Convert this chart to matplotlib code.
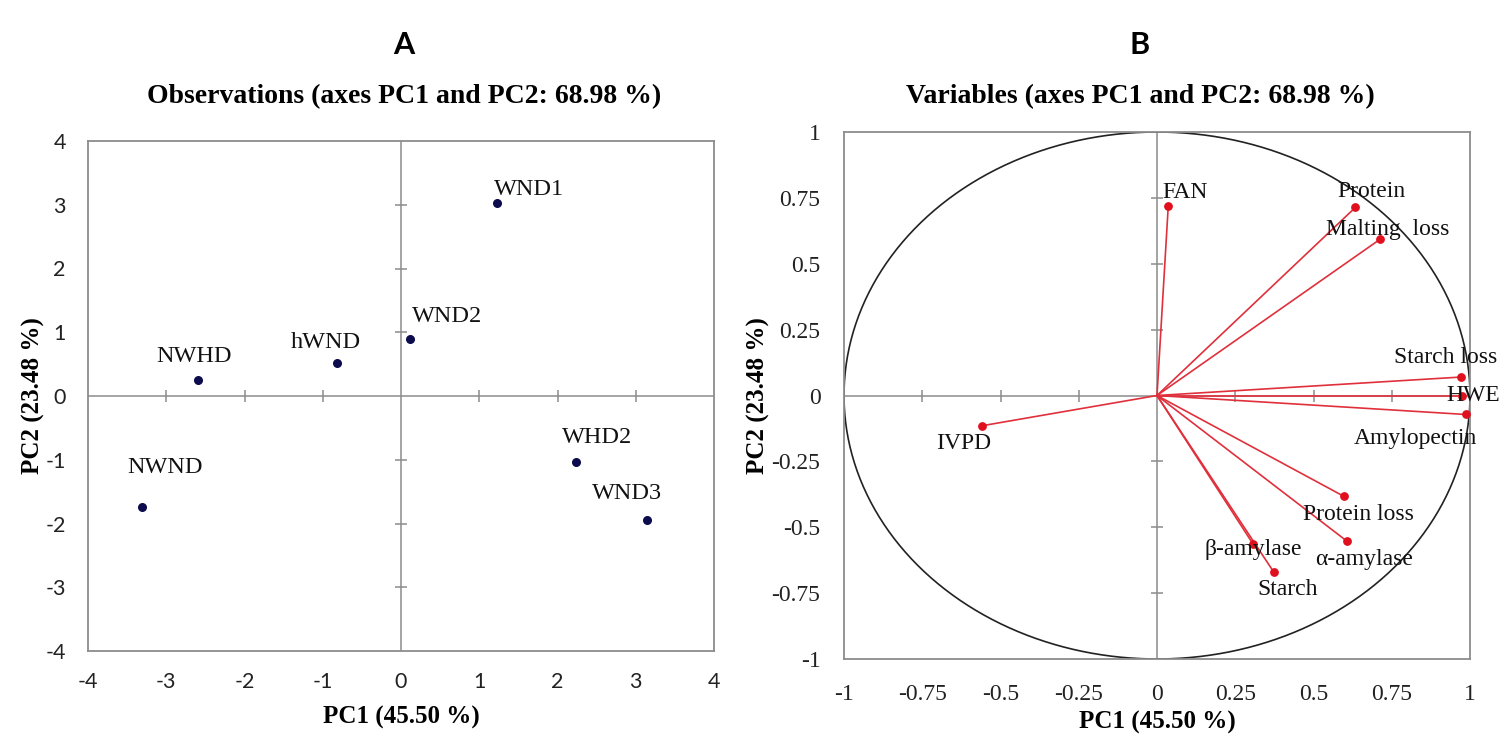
import numpy as np
import matplotlib
matplotlib.use("Agg")
import matplotlib.pyplot as plt

# observations (panel A)
obs_names = ["WND1", "WND2", "hWND", "NWHD", "NWND", "WHD2", "WND3"]
obs_pc1 = [1.23, 0.12, -0.82, -2.60, -3.31, 2.24, 3.15]
obs_pc2 = [3.03, 0.90, 0.51, 0.25, -1.74, -1.03, -1.95]

# variables (panel B)
var_names = ["FAN", "Protein", "Malting  loss", "Starch loss", "HWE", "Amylopectin",
             "IVPD", "Protein loss", "\u03b1-amylase", "\u03b2-amylase", "Starch"]
var_pc1 = [0.036, 0.634, 0.714, 0.971, 0.975, 0.986, -0.560, 0.596, 0.607, 0.306, 0.373]
var_pc2 = [0.720, 0.714, 0.594, 0.070, 0.000, -0.072, -0.115, -0.382, -0.553, -0.562, -0.670]

obs_ticks = [-4, -3, -2, -1, 0, 1, 2, 3, 4]
var_ticks = [-1, -0.75, -0.5, -0.25, 0, 0.25, 0.5, 0.75, 1]
var_ticklabels = ["-1", "-0.75", "-0.5", "-0.25", "0", "0.25", "0.5", "0.75", "1"]

# label offsets in pixels (dx, dy)
obs_off = [(32, 13), (37, 22), (-11, 21), (-4, 24), (23, 39), (21, 24), (-20, 27)]
var_off = [(17, 13), (16, 16), (7, 9), (-15, 20), (11, 0), (-50, -24),
           (-18, -18), (15, -18), (17, -18), (0, -6), (14, -17)]

serif = "Liberation Serif"
sans = "Lato"
spine_col = "#8c8c8c"

fig = plt.figure(figsize=(15.05, 7.39), dpi=100)
W, H = 1505, 739


def add_axes(x0, x1, y0, y1):
    return fig.add_axes([x0 / W, 1 - y1 / H, (x1 - x0) / W, (y1 - y0) / H])


def style(ax, ticks, labels, font, fs, xpad, ypad, ylab_x, xlab_y):
    ax.set_xlim(ticks[0], ticks[-1])
    ax.set_ylim(ticks[0], ticks[-1])
    ax.set_xticks(ticks)
    ax.set_yticks(ticks)
    ax.set_xticklabels(labels, fontfamily=font, fontsize=fs)
    ax.set_yticklabels(labels, fontfamily=font, fontsize=fs)
    ax.tick_params(axis="x", length=0, pad=xpad, colors="#222222")
    ax.tick_params(axis="y", length=0, pad=ypad, colors="#222222")
    for s in ax.spines.values():
        s.set_color(spine_col)
        s.set_linewidth(1.3)
    ax.axhline(0, color=spine_col, lw=1.1, zorder=1)
    ax.axvline(0, color=spine_col, lw=1.1, zorder=1)
    inner = [t for t in ticks if t not in (ticks[0], ticks[-1], 0)]
    ax.plot(inner, [0] * len(inner), ls="none", marker="|", ms=9, mew=1.1, color=spine_col, zorder=1)
    ax.plot([0] * len(inner), inner, ls="none", marker="_", ms=9, mew=1.1, color=spine_col, zorder=1)
    ax.set_xlabel("PC1 (45.50 %)", fontfamily=serif, fontweight="bold", fontsize=18)
    ax.set_ylabel("PC2 (23.48 %)", fontfamily=serif, fontweight="bold", fontsize=18)
    ax.xaxis.set_label_coords(0.5, xlab_y)
    ax.yaxis.set_label_coords(ylab_x, 0.5)


# panel A
axA = add_axes(88, 714, 141, 651)
style(axA, obs_ticks, [str(t) for t in obs_ticks], sans, 15.5, 15, 16, -0.068, -0.108)
axA.scatter(obs_pc1, obs_pc2, s=30, color="#0b0b4d", zorder=3)
for n, x, y, (dx, dy) in zip(obs_names, obs_pc1, obs_pc2, obs_off):
    axA.annotate(n, (x, y), xytext=(dx, dy), textcoords="offset pixels",
                 ha="center", va="center", fontfamily=serif, fontsize=17.5, color="#111111")

# panel B
axB = add_axes(844, 1470, 132, 659)
style(axB, var_ticks, var_ticklabels, serif, 17, 18, 17, -0.118, -0.098)
t = np.linspace(0, 2 * np.pi, 400)
axB.plot(np.cos(t), np.sin(t), color="#222222", lw=1.2, zorder=2)
for x, y in zip(var_pc1, var_pc2):
    axB.plot([0, x], [0, y], color="#e0303c", lw=1.2, zorder=3)
axB.scatter(var_pc1, var_pc2, s=28, color="#e0101e", zorder=4)
for n, x, y, (dx, dy) in zip(var_names, var_pc1, var_pc2, var_off):
    axB.annotate(n, (x, y), xytext=(dx, dy), textcoords="offset pixels",
                 ha="center", va="center", fontfamily=serif, fontsize=17, color="#111111", zorder=5)

# titles
for xc, letter, title in [(404, "A", "Observations (axes PC1 and PC2: 68.98 %)"),
                          (1140, "B", "Variables (axes PC1 and PC2: 68.98 %)")]:
    fig.text(xc / W, 1 - 45 / H, letter, ha="center", va="center",
             fontfamily=sans, fontweight="bold", fontsize=22)
    fig.text(xc / W, 1 - 97 / H, title, ha="center", va="center",
             fontfamily=serif, fontweight="bold", fontsize=20)

fig.savefig("out.png", dpi=100)
